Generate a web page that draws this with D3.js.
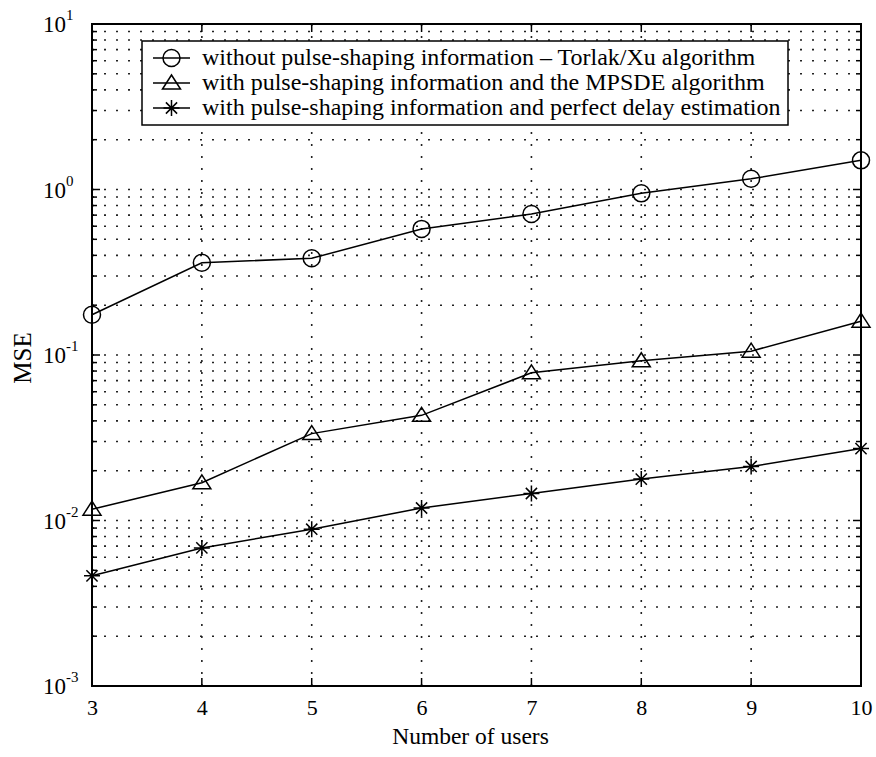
<!DOCTYPE html>
<html>
<head>
<meta charset="utf-8">
<script src="https://cdn.jsdelivr.net/npm/d3@7"></script>
<style>
  html, body { margin: 0; padding: 0; background: #fff; }
  svg { display: block; font-family: "Liberation Serif", "Times New Roman", serif; }
</style>
</head>
<body>
<svg id="chart" width="876" height="757"></svg>
<script>
// Number of users on the x axis
const users = [3, 4, 5, 6, 7, 8, 9, 10];

// MSE per series
const torlakXu   = [0.175, 0.361, 0.384, 0.578, 0.711, 0.948, 1.16, 1.50];
const mpsde      = [0.0117, 0.0169, 0.0335, 0.0432, 0.078, 0.0923, 0.1055, 0.160];
const perfectDly = [0.00463, 0.00683, 0.00886, 0.0119, 0.01456, 0.0178, 0.0212, 0.0272];

const seriesNames = [
  "without pulse-shaping information \u2013 Torlak/Xu algorithm",
  "with pulse-shaping information and the MPSDE algorithm",
  "with pulse-shaping information and perfect delay estimation"
];
const seriesMarkers = ["circle", "triangle", "star"];

const yDecades = [1e-3, 1e-2, 1e-1, 1e0, 1e1];
const yExponents = ["-3", "-2", "-1", "0", "1"];

const series = [torlakXu, mpsde, perfectDly].map((vals, i) => ({
  name: seriesNames[i],
  marker: seriesMarkers[i],
  points: users.map((u, j) => ({ x: u, y: vals[j] }))
}));

const svg = d3.select("#chart");
const plot = { left: 92, right: 861, top: 24, bottom: 686 };

const x = d3.scaleLinear().domain([3, 10]).range([plot.left, plot.right]);
const y = d3.scaleLog().domain([1e-3, 1e1]).range([plot.bottom, plot.top]);

// minor log positions 2..9 in each decade
const minorVals = [];
for (let d = -3; d < 1; d++) {
  for (let m = 2; m <= 9; m++) minorVals.push(m * Math.pow(10, d));
}

// dotted grid
const grid = svg.append("g").attr("stroke", "#222").attr("stroke-width", 1.6)
  .attr("stroke-dasharray", "2,10");
grid.selectAll("line.h").data(yDecades.slice(1, -1).concat(minorVals)).join("line")
  .attr("class", "h")
  .attr("x1", plot.left).attr("x2", plot.right)
  .attr("y1", d => y(d)).attr("y2", d => y(d));
grid.selectAll("line.v").data(users.slice(1, -1)).join("line")
  .attr("class", "v")
  .attr("x1", d => x(d)).attr("x2", d => x(d))
  .attr("y1", plot.top).attr("y2", plot.bottom);

// tick marks on all four sides
const ticks = svg.append("g").attr("stroke", "#000").attr("stroke-width", 1.5);
const majorLen = 8, minorLen = 5;
[plot.left, plot.right].forEach(edge => {
  const dir = edge === plot.left ? 1 : -1;
  ticks.append("g").selectAll("line").data(yDecades).join("line")
    .attr("x1", edge).attr("x2", edge + dir * majorLen)
    .attr("y1", d => y(d)).attr("y2", d => y(d));
  ticks.append("g").selectAll("line").data(minorVals).join("line")
    .attr("x1", edge).attr("x2", edge + dir * minorLen)
    .attr("y1", d => y(d)).attr("y2", d => y(d));
});
[plot.top, plot.bottom].forEach(edge => {
  const dir = edge === plot.bottom ? -1 : 1;
  ticks.append("g").selectAll("line").data(users).join("line")
    .attr("x1", d => x(d)).attr("x2", d => x(d))
    .attr("y1", edge).attr("y2", edge + dir * majorLen);
});

// axes box
svg.append("rect")
  .attr("x", plot.left).attr("y", plot.top)
  .attr("width", plot.right - plot.left).attr("height", plot.bottom - plot.top)
  .attr("fill", "none").attr("stroke", "#000").attr("stroke-width", 2);

// x tick labels
const xAxis = d3.axisBottom(x).tickValues(users).tickSize(0).tickPadding(0)
  .tickFormat(d3.format("d"));
const gx = svg.append("g").attr("transform", `translate(0,${plot.bottom})`).call(xAxis);
gx.select(".domain").remove();
gx.selectAll("text")
  .attr("y", 29).attr("dy", 0)
  .attr("font-size", 22).attr("fill", "#000")
  .attr("font-family", "Liberation Serif, Times New Roman, serif");

// y tick labels: 10 with superscript exponent
const ylab = svg.append("g").attr("font-size", 23).attr("fill", "#000");
yDecades.forEach((v, i) => {
  const t = ylab.append("text")
    .attr("x", 43).attr("y", y(v) + 8);
  t.append("tspan").text("10");
  t.append("tspan").attr("font-size", 15).attr("dy", -12).text(yExponents[i]);
});

// axis titles
svg.append("text")
  .attr("x", (plot.left + plot.right) / 2 - 6).attr("y", 744)
  .attr("text-anchor", "middle").attr("font-size", 23.5).text("Number of users");
svg.append("text")
  .attr("transform", `translate(31,358) rotate(-90)`)
  .attr("text-anchor", "middle").attr("font-size", 25).text("MSE");

// marker drawing
function drawMarker(g, type) {
  if (type === "circle") {
    g.append("circle").attr("r", 8.5).attr("fill", "none")
      .attr("stroke", "#000").attr("stroke-width", 1.5);
  } else if (type === "triangle") {
    g.append("path").attr("d", "M0,-8 L9,6 L-9,6 Z").attr("fill", "none")
      .attr("stroke", "#000").attr("stroke-width", 1.5);
  } else {
    const r = 8;
    g.append("path")
      .attr("d", `M${-r},0 L${r},0 M0,${-r} L0,${r} M${-r * 0.7},${-r * 0.7} L${r * 0.7},${r * 0.7} M${-r * 0.7},${r * 0.7} L${r * 0.7},${-r * 0.7}`)
      .attr("fill", "none").attr("stroke", "#000").attr("stroke-width", 1.5);
  }
}

// series lines and markers
const line = d3.line().x(d => x(d.x)).y(d => y(d.y));
series.forEach(s => {
  svg.append("path").datum(s.points).attr("d", line)
    .attr("fill", "none").attr("stroke", "#000").attr("stroke-width", 1.5);
  svg.append("g").selectAll("g").data(s.points).join("g")
    .attr("transform", d => `translate(${x(d.x)},${y(d.y)})`)
    .each(function () { drawMarker(d3.select(this), s.marker); });
});

// legend
const leg = { x: 142, y: 41, w: 646, h: 84 };
const lg = svg.append("g");
lg.append("rect").attr("x", leg.x).attr("y", leg.y).attr("width", leg.w).attr("height", leg.h)
  .attr("fill", "#fff").attr("stroke", "#000").attr("stroke-width", 1.5);
series.forEach((s, i) => {
  const cy = 58 + i * 25;
  lg.append("line").attr("x1", 153).attr("x2", 190).attr("y1", cy).attr("y2", cy)
    .attr("stroke", "#000").attr("stroke-width", 1.5);
  const m = lg.append("g").attr("transform", `translate(171.5,${cy})`);
  drawMarker(m, s.marker);
  lg.append("text").attr("x", 202).attr("y", cy + 7).attr("font-size", 24)
    .attr("fill", "#000").text(s.name);
});
</script>
</body>
</html>
